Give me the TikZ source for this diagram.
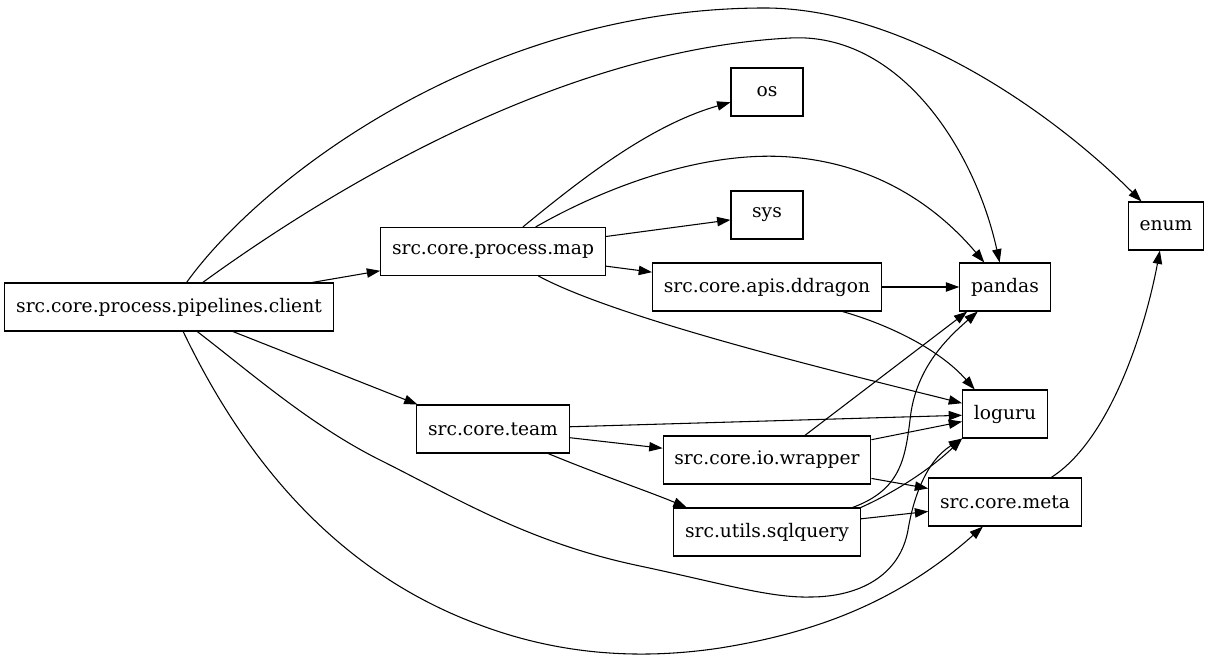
\documentclass[tikz,border=0pt]{standalone}
\usepackage{fontspec}
\setmainfont{DejaVu Serif}
\usetikzlibrary{arrows.meta}

\begin{document}
\begin{tikzpicture}[x=0.75pt, y=-0.75pt, >={Triangle[length=10pt,width=7pt]}, line width=0.8pt]
  \tikzset{
    mod/.style={draw, rectangle, minimum height=36pt, minimum width=54pt, inner xsep=8.5pt, font=\fontsize{14}{17}\selectfont},
  }
  \useasboundingbox (0,0) rectangle (1209,658);

  % modules (pixel positions of the box centres)
  \node[mod] (client)   at (169,307)  {src.core.process.pipelines.client};
  \node[mod] (map)      at (493,251.5) {src.core.process.map};
  \node[mod] (os)       at (767,92)   {os};
  \node[mod] (sys)      at (767,215)  {sys};
  \node[mod] (ddragon)  at (767,287)  {src.core.apis.ddragon};
  \node[mod] (pandas)   at (1005,287) {pandas};
  \node[mod] (team)     at (493,429)  {src.core.team};
  \node[mod] (wrapper)  at (767,460)  {src.core.io.wrapper};
  \node[mod] (sqlquery) at (767,532)  {src.utils.sqlquery};
  \node[mod] (loguru)   at (1005,414) {loguru};
  \node[mod] (meta)     at (1005,502) {src.core.meta};
  \node[mod] (enum)     at (1166,226) {enum};

  % client
  \draw[->] (client) -- (map);
  \draw[->] (client.-21) -- (team.162);
  \draw[->] (client) .. controls (260,180) and (480,10) .. (760,8) .. controls (900,6) and (1050,110) .. (enum);
  \draw[->] (client) .. controls (330,190) and (560,50) .. (790,38) .. controls (900,32) and (975,150) .. (pandas);
  \draw[->] (client.-41) .. controls (250,372) and (310,425) .. (380,460) .. controls (460,500) and (530,543) .. (640,566)
    .. controls (720,583) and (770,598) .. (810,597) .. controls (860,597) and (900,575) .. (908,530)
    .. controls (913,500) and (925,462) .. (loguru.south west);
  \draw[->] (client.-60) .. controls (240,450) and (330,570) .. (480,625) .. controls (560,655) and (640,660) .. (720,648)
    .. controls (820,632) and (900,600) .. (meta.228);

  % map
  \draw[->] (map) .. controls (580,180) and (650,125) .. (os);
  \draw[->] (map) .. controls (600,190) and (700,150) .. (790,157) .. controls (880,164) and (940,210) .. (pandas);
  \draw[->] (map) -- (sys);
  \draw[->] (map) -- (ddragon);
  \draw[->] (map) .. controls (620,320) and (850,375) .. (loguru);

  % ddragon
  \draw[->] (ddragon) -- (pandas);
  \draw[->] (ddragon.-18) .. controls (890,325) and (940,350) .. (loguru.141);

  % team
  \draw[->] (team) -- (loguru);
  \draw[->] (team) -- (wrapper);
  \draw[->] (team.-24) .. controls (600,475) and (650,492) .. (sqlquery.163);

  % wrapper
  \draw[->] (wrapper.33) -- (pandas.213);
  \draw[->] (wrapper.11) -- (loguru.190);
  \draw[->] (wrapper.-10) -- (meta.170);

  % sqlquery
  \draw[->] (sqlquery.16) .. controls (900,490) and (905,460) .. (910,420) .. controls (915,370) and (945,340) .. (pandas.222);
  \draw[->] (sqlquery.north east) .. controls (900,490) and (935,465) .. (loguru.south west);
  \draw[->] (sqlquery.8) -- (meta.187);

  % meta
  \draw[->] (meta.28) .. controls (1110,440) and (1145,330) .. (enum.256);
\end{tikzpicture}
\end{document}
